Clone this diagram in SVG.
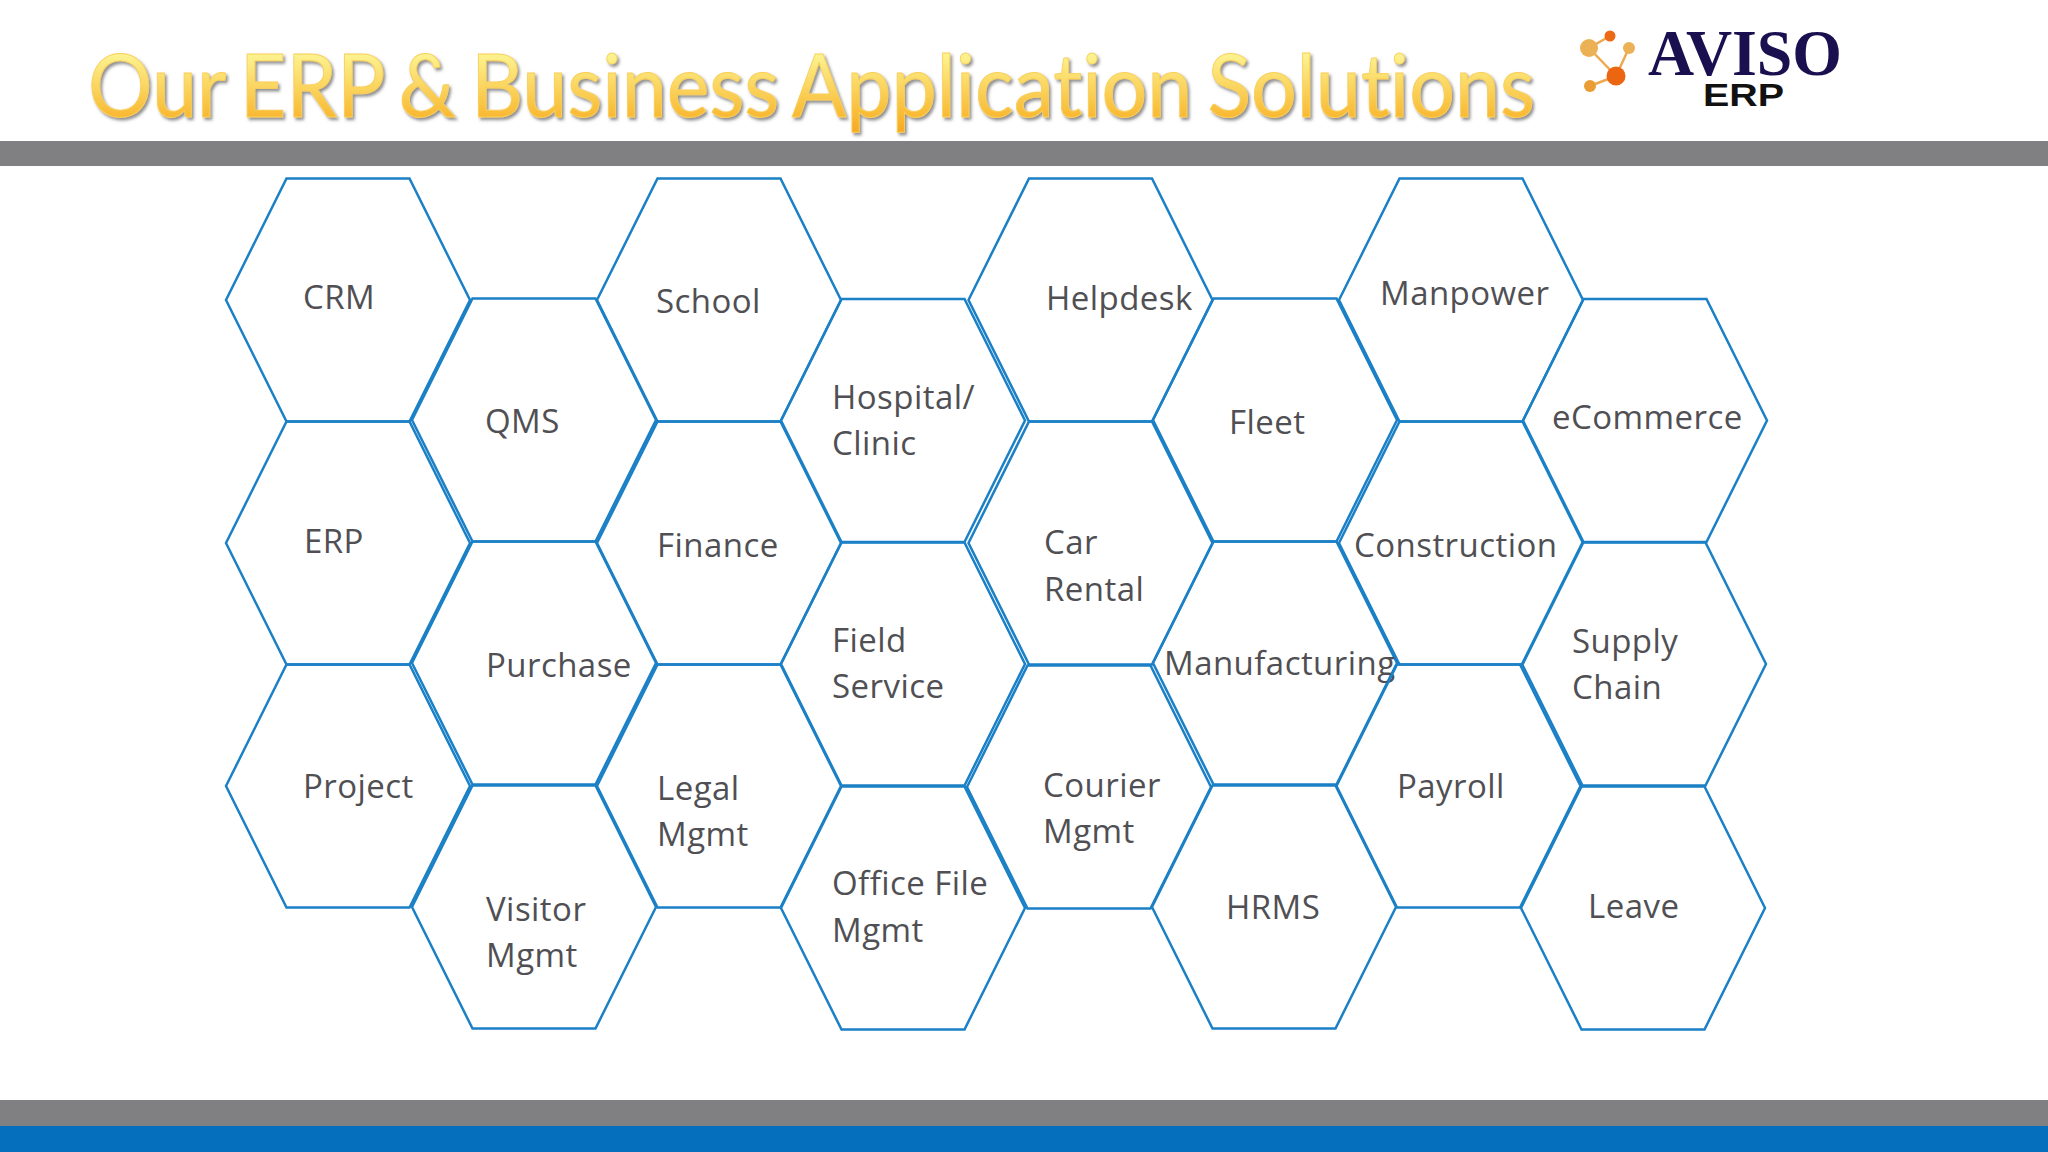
<svg xmlns="http://www.w3.org/2000/svg" width="2048" height="1152" viewBox="0 0 2048 1152">
<style>
.hx{fill:none;stroke:#1b80c6;stroke-width:2.5}
.t{font-family:"Open Sans","Noto Sans",sans-serif;font-size:33px;letter-spacing:.45px;fill:#505054}
.title{font-family:Lato,"Noto Sans",sans-serif;font-size:87px;font-variant-ligatures:none;word-spacing:-6px;stroke:#f9cf5a;stroke-width:.9}
.lk{stroke:#eea94e;stroke-width:2.5}
</style>
<defs>
<polygon id="hex" class="hx" points="-122,0 -61.5,-121.5 61.5,-121.5 122,0 61.5,121.5 -61.5,121.5"/>
<linearGradient id="gold" x1="0" y1="0" x2="0" y2="1"><stop offset="0.15" stop-color="#fdfa9c"/><stop offset="0.75" stop-color="#f9bf3c"/><stop offset="1" stop-color="#f7a51c"/></linearGradient>
<filter id="sh" x="-2%" y="-10%" width="104%" height="130%"><feDropShadow dx="2" dy="2.5" stdDeviation="1.6" flood-color="#555" flood-opacity="0.65"/></filter>
</defs>
<rect width="2048" height="1152" fill="#fff"/>
<rect id="bar-top" x="0" y="141" width="2048" height="25" fill="#807f81"/>
<rect id="bar-grey" x="0" y="1100" width="2048" height="26" fill="#807f81"/>
<rect id="bar-blue" x="0" y="1126" width="2048" height="26" fill="#056fbe"/>
<text class="title" x="88" y="117" fill="url(#gold)" filter="url(#sh)" textLength="1447" lengthAdjust="spacingAndGlyphs">Our ERP &amp; Business Application Solutions</text>
<g id="logo">
<g class="lk"><line x1="1589" y1="48" x2="1610" y2="36"/><line x1="1589" y1="48" x2="1616" y2="76"/><line x1="1629" y1="48" x2="1616" y2="76"/><line x1="1590" y1="86" x2="1616" y2="76"/></g>
<circle cx="1589" cy="48" r="9" fill="#ecb155"/><circle cx="1610" cy="36" r="5.5" fill="#ec6a15"/><circle cx="1629" cy="48" r="6" fill="#ecb155"/><circle cx="1616" cy="76" r="9.5" fill="#ec6611"/><circle cx="1590" cy="86" r="6" fill="#eb9d35"/>
<text x="1648" y="75" font-family="Liberation Serif,serif" font-weight="700" font-size="66" fill="#1a1050" textLength="194" lengthAdjust="spacingAndGlyphs">AVISO</text>
<text x="1703" y="106" font-family="Liberation Sans,sans-serif" font-weight="700" font-size="32" fill="#111" textLength="81" lengthAdjust="spacingAndGlyphs">ERP</text>
</g>
<g id="n-crm"><use href="#hex" x="348" y="300"/><text class="t" x="303" y="309">CRM</text></g>
<g id="n-erp"><use href="#hex" x="348" y="543"/><text class="t" x="304" y="553">ERP</text></g>
<g id="n-project"><use href="#hex" x="348" y="786"/><text class="t" x="303" y="798">Project</text></g>
<g id="n-qms"><use href="#hex" x="534" y="420"/><text class="t" x="485" y="433">QMS</text></g>
<g id="n-purchase"><use href="#hex" x="534" y="663"/><text class="t" x="486" y="677">Purchase</text></g>
<g id="n-visitor"><use href="#hex" x="534" y="907"/><text class="t" x="486" y="921">Visitor</text><text class="t" x="486" y="967">Mgmt</text></g>
<g id="n-school"><use href="#hex" x="719" y="300"/><text class="t" x="656" y="313">School</text></g>
<g id="n-finance"><use href="#hex" x="719" y="543"/><text class="t" x="657" y="557">Finance</text></g>
<g id="n-legal"><use href="#hex" x="719" y="786"/><text class="t" x="657" y="800">Legal</text><text class="t" x="657" y="846">Mgmt</text></g>
<g id="n-hospital"><use href="#hex" x="903" y="420.5"/><text class="t" x="832" y="409">Hospital/</text><text class="t" x="832" y="455">Clinic</text></g>
<g id="n-field"><use href="#hex" x="903" y="664"/><text class="t" x="832" y="652">Field</text><text class="t" x="832" y="698">Service</text></g>
<g id="n-office"><use href="#hex" x="903" y="908"/><text class="t" x="832" y="895">Office File</text><text class="t" x="832" y="942">Mgmt</text></g>
<g id="n-helpdesk"><use href="#hex" x="1090.5" y="300"/><text class="t" x="1046" y="310">Helpdesk</text></g>
<g id="n-car"><use href="#hex" x="1090.5" y="543"/><text class="t" x="1044" y="554">Car</text><text class="t" x="1044" y="601">Rental</text></g>
<g id="n-courier"><use href="#hex" x="1089" y="787"/><text class="t" x="1043" y="797">Courier</text><text class="t" x="1043" y="843">Mgmt</text></g>
<g id="n-fleet"><use href="#hex" x="1275" y="420"/><text class="t" x="1229" y="434">Fleet</text></g>
<g id="n-mfg"><use href="#hex" x="1275" y="663"/><text class="t" x="1164" y="675">Manufacturing</text></g>
<g id="n-hrms"><use href="#hex" x="1274" y="907"/><text class="t" x="1226" y="919">HRMS</text></g>
<g id="n-manpower"><use href="#hex" x="1461" y="300"/><text class="t" x="1380" y="305">Manpower</text></g>
<g id="n-construction"><use href="#hex" x="1461" y="543"/><text class="t" x="1354" y="557">Construction</text></g>
<g id="n-payroll"><use href="#hex" x="1458.5" y="786"/><text class="t" x="1397" y="798">Payroll</text></g>
<g id="n-ecommerce"><use href="#hex" x="1645" y="420.5"/><text class="t" x="1552" y="429">eCommerce</text></g>
<g id="n-supply"><use href="#hex" x="1644" y="664"/><text class="t" x="1572" y="653">Supply</text><text class="t" x="1572" y="699">Chain</text></g>
<g id="n-leave"><use href="#hex" x="1643" y="908"/><text class="t" x="1588" y="918">Leave</text></g>
<g id="connectors"/>
</svg>
